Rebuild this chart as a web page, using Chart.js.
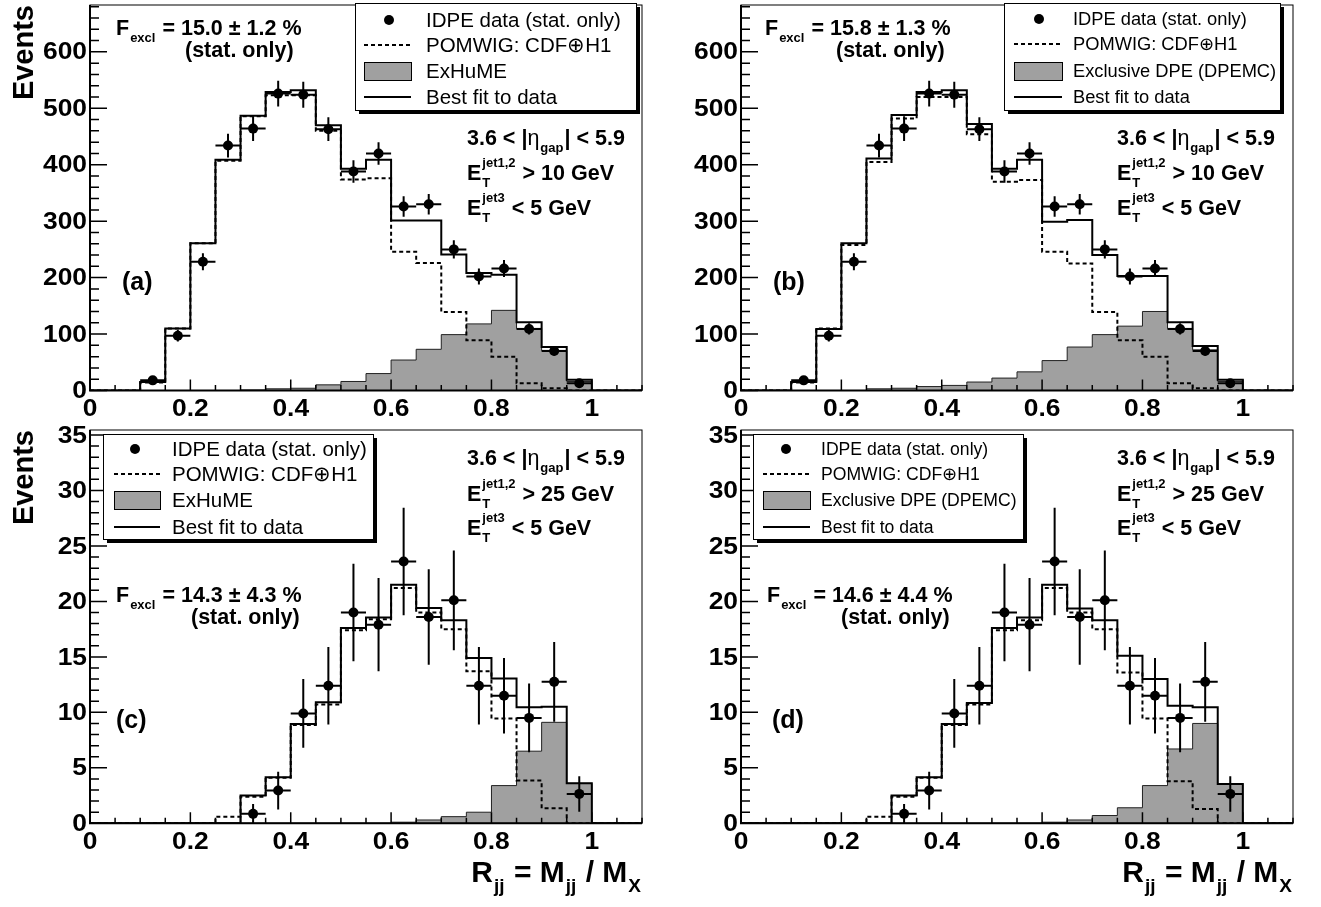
<!DOCTYPE html>
<html>
<head>
<meta charset="utf-8">
<script src="https://cdn.jsdelivr.net/npm/chart.js@4.4.1/dist/chart.umd.min.js"></script>
<style>
  html, body { margin: 0; padding: 0; background: #fff; }
  body { width: 1321px; height: 907px; position: relative; overflow: hidden; }
  canvas { position: absolute; }
</style>
</head>
<body>
<canvas id="panelA" width="660" height="420" style="left:0px;top:0px"></canvas>
<canvas id="panelB" width="661" height="420" style="left:660px;top:0px"></canvas>
<canvas id="panelC" width="660" height="487" style="left:0px;top:420px"></canvas>
<canvas id="panelD" width="661" height="487" style="left:660px;top:420px"></canvas>
<script>
const FONT = '"Liberation Sans", Arial, Helvetica, sans-serif';

// R_jj histogram binning, 22 bins of 0.05 from 0 to 1.1
const binEdges = [0, 0.05, 0.1, 0.15, 0.2, 0.25, 0.3, 0.35, 0.4, 0.45, 0.5, 0.55,
                  0.6, 0.65, 0.7, 0.75, 0.8, 0.85, 0.9, 0.95, 1.0, 1.05, 1.1];

// IDPE data, E_T(jet1,2) > 10 GeV
const dataX10 = [0.125, 0.175, 0.225, 0.275, 0.325, 0.375, 0.425, 0.475, 0.525,
                 0.575, 0.625, 0.675, 0.725, 0.775, 0.825, 0.875, 0.925, 0.975];
const dataY10 = [18, 97, 228, 434, 464, 526, 524, 463, 388, 420, 326, 330, 250, 202, 216, 109, 70, 13];
const dataErr10 = [4, 10, 15, 21, 22, 23, 23, 21, 20, 20, 18, 18, 16, 14, 15, 10, 8, 4];

// IDPE data, E_T(jet1,2) > 25 GeV
const dataX25 = [0.325, 0.375, 0.425, 0.475, 0.525, 0.575, 0.625, 0.675, 0.725,
                 0.775, 0.825, 0.875, 0.925, 0.975];
const dataY25 = [0.85, 2.95, 9.9, 12.4, 19.0, 17.9, 23.6, 18.6, 20.1, 12.4, 11.5, 9.5, 12.75, 2.65];
const dataErr25 = [0.9, 1.7, 3.1, 3.5, 4.4, 4.2, 4.85, 4.3, 4.5, 3.5, 3.4, 3.1, 3.6, 1.6];

// (a) ExHuME, > 10 GeV
const fitA    = [0, 0, 15, 110, 261, 409, 487, 529, 532, 470, 393, 409, 301, 301, 241, 208, 205, 121, 77, 19, 0, 0];
const pomwigA = [0, 0, 14, 110, 261, 407, 486, 523, 523, 460, 374, 376, 246, 226, 139, 89, 60, 13, 4, 0, 0, 0];
const exclA   = [0, 0, 0, 0, 0, 0, 1, 3, 4, 10, 16, 30, 54, 73, 99, 118, 142, 110, 71, 16, 0, 0];

// (b) DPEMC, > 10 GeV
const fitB    = [0, 0, 15, 109, 261, 411, 488, 529, 532, 472, 393, 409, 299, 302, 240, 203, 203, 121, 79, 19, 0, 0];
const pomwigB = [0, 0, 14, 110, 258, 405, 482, 520, 520, 454, 370, 373, 246, 225, 139, 89, 60, 13, 4, 0, 0, 0];
const exclB   = [0, 0, 0, 0, 0, 3, 4, 7, 9, 15, 22, 33, 53, 77, 99, 114, 140, 110, 72, 16, 0, 0];

// (c) ExHuME, > 25 GeV
const fitC    = [0, 0, 0, 0, 0, 0, 2.5, 4.15, 8.95, 10.9, 17.6, 18.55, 21.5, 19.4, 18.3, 14.9, 13.05, 10.45, 10.5, 3.6, 0, 0];
const pomwigC = [0, 0, 0, 0, 0, 0.6, 2.4, 4.1, 8.85, 10.7, 17.4, 18.4, 21.2, 19.0, 17.5, 13.7, 9.45, 3.85, 1.35, 0, 0, 0];
const exclC   = [0, 0, 0, 0, 0, 0, 0, 0, 0, 0, 0, 0, 0.1, 0.3, 0.6, 1.0, 3.4, 6.5, 9.1, 3.6, 0, 0];

// (d) DPEMC, > 25 GeV
const fitD    = [0, 0, 0, 0, 0, 0, 2.5, 4.15, 8.95, 10.85, 17.6, 18.55, 21.5, 19.35, 18.3, 15.1, 13.0, 10.6, 10.45, 3.55, 0, 0];
const pomwigD = [0, 0, 0, 0, 0, 0.6, 2.4, 4.1, 8.85, 10.7, 17.4, 18.3, 21.2, 19.0, 17.5, 13.6, 9.45, 3.8, 1.3, 0, 0, 0];
const exclD   = [0, 0, 0, 0, 0, 0, 0, 0, 0, 0, 0, 0, 0.1, 0.3, 0.7, 1.4, 3.4, 6.7, 9.0, 3.55, 0, 0];

// axis ticks
const xTicks = [0, 0.2, 0.4, 0.6, 0.8, 1];
const xTickLabels = ['0', '0.2', '0.4', '0.6', '0.8', '1'];
const yTicks10 = [0, 100, 200, 300, 400, 500, 600];
const yTicks25 = [0, 5, 10, 15, 20, 25, 30, 35];

const legendLabels = ['IDPE data (stat. only)', 'POMWIG: CDF\u2295H1'];
const fitLabel = 'Best fit to data';

const gapText = [{t: '3.6 < |'}, {t: '\u03B7', normal: true}, {sub: 'gap'}, {t: '| < 5.9'}];
const jet3Text = [{t: 'E'}, {sub: 'T', sup: 'jet3'}, {t: ' < 5 GeV'}];
const jet12Text = (cut) => [{t: 'E'}, {sub: 'T', sup: 'jet1,2'}, {t: ' > ' + cut + ' GeV'}];
const fexclText = (val) => [{t: 'F'}, {sub: 'excl'}, {t: ' = ' + val + ' %'}];

const panels = [
  {
    id: 'panelA', left: 0, top: 0, frame: [90, 1, 642, 390.5], ymax: 683,
    yTicks: yTicks10, yMinor: 20, x: dataX10, y: dataY10, err: dataErr10,
    fit: fitA, pomwig: pomwigA, excl: exclA, exclLabel: 'ExHuME', title: false,
    legend: {box: [355, 3, 636, 110], dot: 389, sym: [364, 411], text: 426, rows: [20, 45, 71, 97], size: 20.5},
    notes: [
      {parts: fexclText('15.0 \u00B1 1.2'), x: 116, y: 35, size: 21.5},
      {parts: [{t: '(stat. only)'}], x: 185, y: 57, size: 21.5},
      {parts: gapText, x: 467, y: 145, size: 21.5},
      {parts: jet12Text(10), x: 467, y: 180, size: 21.5},
      {parts: jet3Text, x: 467, y: 215, size: 21.5},
      {parts: [{t: '(a)'}], x: 122, y: 290, size: 25}
    ]
  },
  {
    id: 'panelB', left: 660, top: 0, frame: [741, 1, 1293, 390.5], ymax: 683,
    yTicks: yTicks10, yMinor: 20, x: dataX10, y: dataY10, err: dataErr10,
    fit: fitB, pomwig: pomwigB, excl: exclB, exclLabel: 'Exclusive DPE (DPEMC)', title: false,
    legend: {box: [1004, 3, 1280, 110], dot: 1039, sym: [1014, 1062], text: 1073, rows: [19, 44, 71, 97], size: 18.3},
    notes: [
      {parts: fexclText('15.8 \u00B1 1.3'), x: 765, y: 35, size: 21.5},
      {parts: [{t: '(stat. only)'}], x: 836, y: 57, size: 21.5},
      {parts: gapText, x: 1117, y: 145, size: 21.5},
      {parts: jet12Text(10), x: 1117, y: 180, size: 21.5},
      {parts: jet3Text, x: 1117, y: 215, size: 21.5},
      {parts: [{t: '(b)'}], x: 773, y: 290, size: 25}
    ]
  },
  {
    id: 'panelC', left: 0, top: 420, frame: [90, 430, 642, 823.3], ymax: 35.45,
    yTicks: yTicks25, yMinor: 1, x: dataX25, y: dataY25, err: dataErr25,
    fit: fitC, pomwig: pomwigC, excl: exclC, exclLabel: 'ExHuME', title: true,
    legend: {box: [103, 434, 373, 539], dot: 135, sym: [114, 160], text: 172, rows: [449, 474, 500, 527], size: 20.5},
    notes: [
      {parts: gapText, x: 467, y: 465, size: 21.5},
      {parts: jet12Text(25), x: 467, y: 501, size: 21.5},
      {parts: jet3Text, x: 467, y: 535, size: 21.5},
      {parts: fexclText('14.3 \u00B1 4.3'), x: 116, y: 602, size: 21.5},
      {parts: [{t: '(stat. only)'}], x: 191, y: 624, size: 21.5},
      {parts: [{t: '(c)'}], x: 116, y: 728, size: 25}
    ]
  },
  {
    id: 'panelD', left: 660, top: 420, frame: [741, 430, 1293, 823.3], ymax: 35.45,
    yTicks: yTicks25, yMinor: 1, x: dataX25, y: dataY25, err: dataErr25,
    fit: fitD, pomwig: pomwigD, excl: exclD, exclLabel: 'Exclusive DPE (DPEMC)', title: true,
    legend: {box: [753, 434, 1023, 539], dot: 786, sym: [763, 810], text: 821, rows: [449, 474, 500, 527], size: 17.6},
    notes: [
      {parts: gapText, x: 1117, y: 465, size: 21.5},
      {parts: jet12Text(25), x: 1117, y: 501, size: 21.5},
      {parts: jet3Text, x: 1117, y: 535, size: 21.5},
      {parts: fexclText('14.6 \u00B1 4.4'), x: 767, y: 602, size: 21.5},
      {parts: [{t: '(stat. only)'}], x: 841, y: 624, size: 21.5},
      {parts: [{t: '(d)'}], x: 772, y: 728, size: 25}
    ]
  }
];

// text with sub/superscripts, TLatex style
function layoutRich(ctx, parts, size, draw, x, y) {
  let cx = x;
  for (const p of parts) {
    if (p.sub !== undefined || p.sup !== undefined) {
      const s = Math.round(size * 0.62);
      ctx.font = `bold ${s}px ${FONT}`;
      let w = 0;
      if (p.sub) {
        if (draw) ctx.fillText(p.sub, cx + 1, y + size * 0.32);
        w = Math.max(w, ctx.measureText(p.sub).width);
      }
      if (p.sup) {
        if (draw) ctx.fillText(p.sup, cx + 1, y - size * 0.6);
        w = Math.max(w, ctx.measureText(p.sup).width);
      }
      cx += w + 2;
    } else {
      ctx.font = `${p.normal ? '' : 'bold '}${size}px ${FONT}`;
      if (draw) ctx.fillText(p.t, cx, y);
      cx += ctx.measureText(p.t).width;
    }
  }
  return cx - x;
}

function drawRich(ctx, parts, x, y, size, align) {
  ctx.textAlign = 'left';
  ctx.textBaseline = 'alphabetic';
  if (align === 'right') x -= layoutRich(ctx, parts, size, false, 0, 0);
  layoutRich(ctx, parts, size, true, x, y);
}

// tick label, slightly widened like the ROOT bold font
function tickLabel(ctx, text, x, y) {
  ctx.save();
  ctx.translate(x, y);
  ctx.scale(1.1, 1);
  ctx.fillText(text, 0, 0);
  ctx.restore();
}

function histPoints(vals) {
  return binEdges.map((e, i) => ({x: e, y: vals[Math.min(i, vals.length - 1)]}));
}

// error bars: +-half bin in x, +-err in y
const errorBars = {
  id: 'errorBars',
  afterDatasetsDraw(chart) {
    const {ctx, scales: {x, y}} = chart;
    const ds = chart.data.datasets[0];
    ctx.save();
    ctx.strokeStyle = '#000';
    ctx.lineWidth = 2;
    ds.data.forEach((p) => {
      const px = x.getPixelForValue(p.x);
      const py = y.getPixelForValue(p.y);
      ctx.beginPath();
      ctx.moveTo(x.getPixelForValue(p.x - 0.025), py);
      ctx.lineTo(x.getPixelForValue(p.x + 0.025), py);
      ctx.moveTo(px, y.getPixelForValue(Math.max(p.y - p.e, 0)));
      ctx.lineTo(px, y.getPixelForValue(p.y + p.e));
      ctx.stroke();
    });
    ctx.restore();
  }
};

function makeDecor(panel) {
  const ox = panel.left, oy = panel.top;
  return {
    id: 'decor',
    afterDraw(chart) {
      const {ctx, chartArea: a, scales: {x, y}} = chart;
      ctx.save();
      ctx.fillStyle = '#000';
      ctx.strokeStyle = '#000';

      // frame and axes
      ctx.lineWidth = 1;
      ctx.strokeRect(a.left, a.top, a.right - a.left, a.bottom - a.top);
      ctx.lineWidth = 2;
      ctx.beginPath();
      ctx.moveTo(a.left, a.top);
      ctx.lineTo(a.left, a.bottom);
      ctx.lineTo(a.right, a.bottom);
      ctx.stroke();

      // ticks drawn inside the frame
      ctx.lineWidth = 1.5;
      ctx.beginPath();
      const yMajor = panel.yTicks[1] - panel.yTicks[0];
      for (let v = 0; v <= panel.ymax + 1e-9; v += panel.yMinor) {
        const major = Math.abs(v / yMajor - Math.round(v / yMajor)) < 1e-6;
        const py = y.getPixelForValue(v);
        ctx.moveTo(a.left, py);
        ctx.lineTo(a.left + (major ? 17 : 9), py);
      }
      for (let i = 0; i <= 22; i++) {
        const major = i % 4 === 0;
        const px = x.getPixelForValue(binEdges[i]);
        ctx.moveTo(px, a.bottom);
        ctx.lineTo(px, a.bottom - (major ? 11 : 5.5));
      }
      ctx.stroke();

      // tick labels
      ctx.font = `bold 24px ${FONT}`;
      ctx.textAlign = 'right';
      ctx.textBaseline = 'middle';
      panel.yTicks.forEach((v) => tickLabel(ctx, String(v), a.left - 3, y.getPixelForValue(v) + 1));
      ctx.textAlign = 'center';
      xTicks.forEach((v, i) => tickLabel(ctx, xTickLabels[i], x.getPixelForValue(v), a.bottom + 19));

      // y title
      if (panel.id === 'panelA' || panel.id === 'panelC') {
        ctx.save();
        ctx.translate(33, a.top);
        ctx.rotate(-Math.PI / 2);
        ctx.font = `bold 29px ${FONT}`;
        ctx.textAlign = 'right';
        ctx.textBaseline = 'alphabetic';
        ctx.fillText('Events', 0, 0);
        ctx.restore();
      }

      // x title
      if (panel.title) {
        drawRich(ctx, [{t: 'R'}, {sub: 'jj'}, {t: ' = M'}, {sub: 'jj'}, {t: ' / M'}, {sub: 'X'}],
                 a.right, 882 - oy, 30, 'right');
      }

      // annotations
      ctx.fillStyle = '#000';
      panel.notes.forEach((n) => drawRich(ctx, n.parts, n.x - ox, n.y - oy, n.size));

      // legend box with shadow
      const L = panel.legend;
      const bx = L.box[0] - ox, by = L.box[1] - oy, bw = L.box[2] - L.box[0], bh = L.box[3] - L.box[1];
      ctx.fillStyle = '#000';
      ctx.fillRect(bx + 4, by + 4, bw, bh);
      ctx.fillStyle = '#fff';
      ctx.fillRect(bx, by, bw, bh);
      ctx.lineWidth = 1;
      ctx.strokeRect(bx + 0.5, by + 0.5, bw, bh);

      const rows = L.rows.map((r) => r - oy);
      const s1 = L.sym[0] - ox, s2 = L.sym[1] - ox;
      ctx.fillStyle = '#000';
      ctx.beginPath();
      ctx.arc(L.dot - ox, rows[0], 5, 0, Math.PI * 2);
      ctx.fill();
      ctx.lineWidth = 2;
      ctx.setLineDash([4, 3]);
      ctx.beginPath();
      ctx.moveTo(s1, rows[1]);
      ctx.lineTo(s2, rows[1]);
      ctx.stroke();
      ctx.setLineDash([]);
      ctx.fillStyle = '#a0a0a0';
      ctx.fillRect(s1, rows[2] - 9, s2 - s1, 18);
      ctx.lineWidth = 1;
      ctx.strokeRect(s1 + 0.5, rows[2] - 9 + 0.5, s2 - s1, 18);
      ctx.lineWidth = 2;
      ctx.beginPath();
      ctx.moveTo(s1, rows[3]);
      ctx.lineTo(s2, rows[3]);
      ctx.stroke();

      ctx.fillStyle = '#000';
      ctx.font = `${L.size}px ${FONT}`;
      ctx.textAlign = 'left';
      ctx.textBaseline = 'middle';
      const labels = [legendLabels[0], legendLabels[1], panel.exclLabel, fitLabel];
      labels.forEach((t, i) => ctx.fillText(t, L.text - ox, rows[i] + 1));
      ctx.restore();
    }
  };
}

panels.forEach((panel) => {
  const canvas = document.getElementById(panel.id);
  const f = panel.frame;
  new Chart(canvas, {
    type: 'line',
    data: {
      datasets: [
        {
          label: 'IDPE data (stat. only)',
          data: panel.x.map((c, i) => ({x: c, y: panel.y[i], e: panel.err[i]})),
          showLine: false,
          pointRadius: 5,
          pointBackgroundColor: '#000',
          pointBorderColor: '#000',
          pointBorderWidth: 0
        },
        {
          label: fitLabel,
          data: histPoints(panel.fit),
          stepped: true,
          borderColor: '#000',
          borderWidth: 2,
          pointRadius: 0,
          fill: false
        },
        {
          label: 'POMWIG: CDF\u2295H1',
          data: histPoints(panel.pomwig),
          stepped: true,
          borderColor: '#000',
          borderWidth: 2,
          borderDash: [4, 3],
          pointRadius: 0,
          fill: false
        },
        {
          label: panel.exclLabel,
          data: histPoints(panel.excl),
          stepped: true,
          borderColor: '#222',
          borderWidth: 1,
          backgroundColor: '#a0a0a0',
          pointRadius: 0,
          fill: 'origin'
        }
      ]
    },
    options: {
      responsive: false,
      animation: false,
      events: [],
      layout: {
        padding: {
          left: f[0] - panel.left,
          top: f[1] - panel.top,
          right: canvas.width - (f[2] - panel.left),
          bottom: canvas.height - (f[3] - panel.top)
        }
      },
      plugins: {
        legend: {display: false},
        tooltip: {enabled: false}
      },
      scales: {
        x: {type: 'linear', min: 0, max: 1.1, display: false},
        y: {type: 'linear', min: 0, max: panel.ymax, display: false}
      }
    },
    plugins: [errorBars, makeDecor(panel)]
  });
});
</script>
</body>
</html>
